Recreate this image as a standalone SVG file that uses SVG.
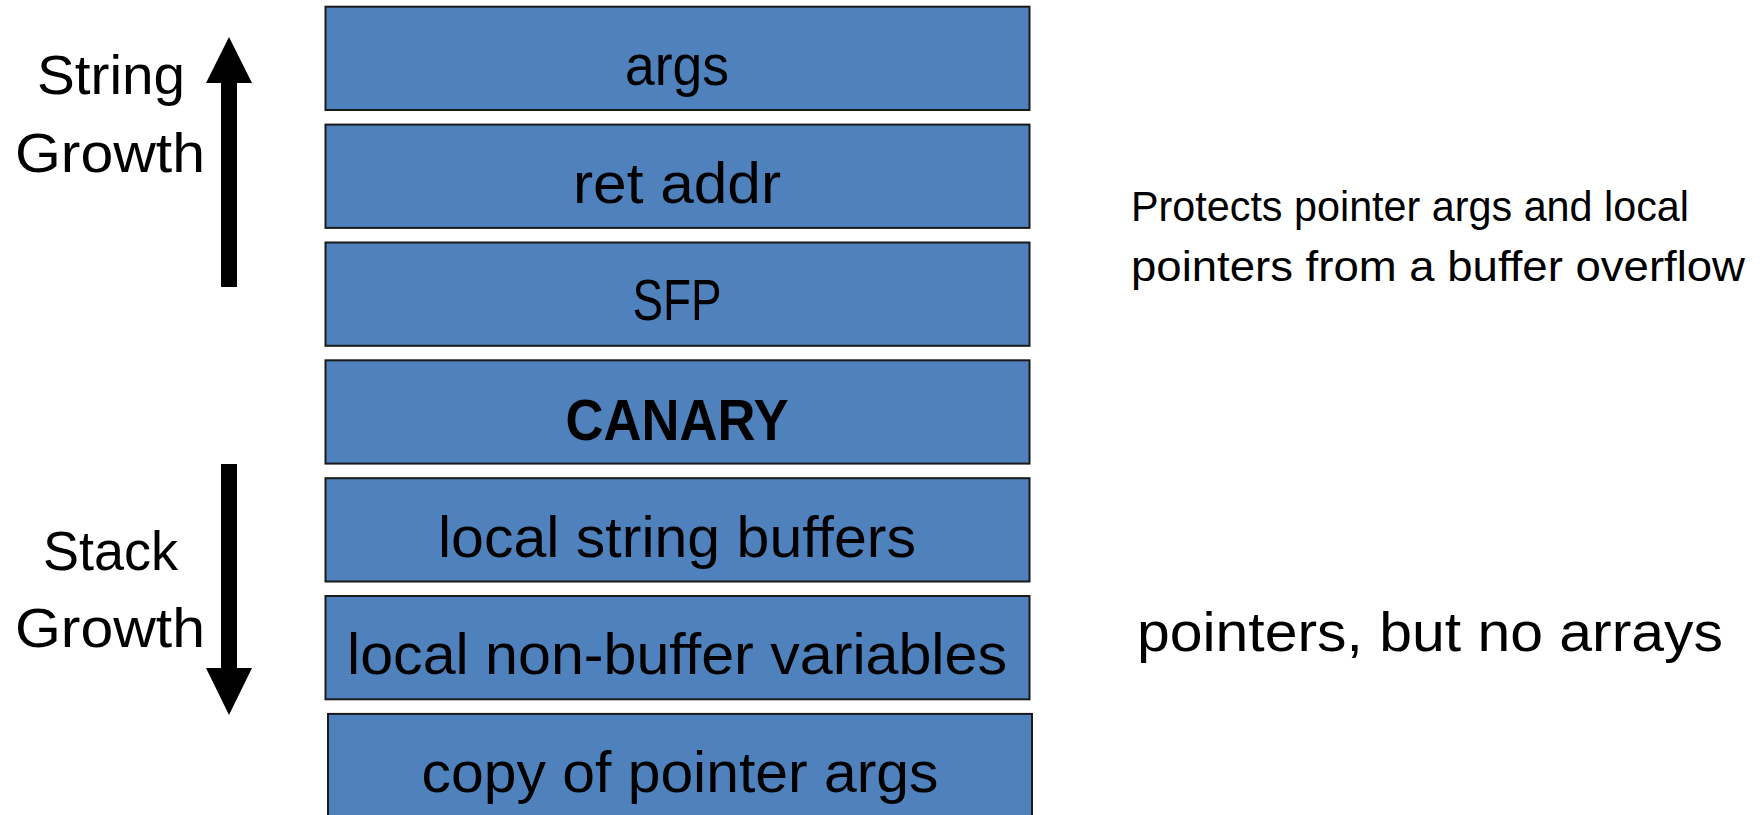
<svg xmlns="http://www.w3.org/2000/svg" width="1760" height="815" viewBox="0 0 1760 815">
<style>
.box{fill:#4f81bd;stroke:#1a1a1a;stroke-width:2}
.lbl{font-family:"Liberation Sans",Arial,sans-serif;font-size:58px;fill:#000;text-anchor:middle}
.side{font-family:"Liberation Sans",Arial,sans-serif;font-size:56px;fill:#000;text-anchor:middle}
.note{font-family:"Liberation Sans",Arial,sans-serif;fill:#000}
.arr{fill:#000}
</style>
<rect width="1760" height="815" fill="#fff"/>
<g id="arrows">
<polygon class="arr" points="221,287 237,287 237,83 252,83 229,37 206,83 221,83"/>
<polygon class="arr" points="221,464 237,464 237,668 252,668 229,715 206,668 221,668"/>
</g>
<g id="string-growth">
<text class="side" x="111" y="94" textLength="148" lengthAdjust="spacingAndGlyphs">String</text>
<text class="side" x="110" y="172" textLength="190" lengthAdjust="spacingAndGlyphs">Growth</text>
</g>
<g id="stack-growth">
<text class="side" x="110.5" y="570" textLength="135" lengthAdjust="spacingAndGlyphs">Stack</text>
<text class="side" x="110" y="647" textLength="190" lengthAdjust="spacingAndGlyphs">Growth</text>
</g>
<g id="args">
<rect class="box" x="325.5" y="6.7" width="704" height="103.3"/>
<text class="lbl" x="677" y="85" textLength="104" lengthAdjust="spacingAndGlyphs">args</text>
</g>
<g id="ret-addr">
<rect class="box" x="325.5" y="124.6" width="704" height="103.3"/>
<text class="lbl" x="677" y="203" textLength="208" lengthAdjust="spacingAndGlyphs">ret addr</text>
</g>
<g id="sfp">
<rect class="box" x="325.5" y="242.5" width="704" height="103.3"/>
<text class="lbl" x="677" y="320" textLength="89" lengthAdjust="spacingAndGlyphs">SFP</text>
</g>
<g id="canary">
<rect class="box" x="325.5" y="360.3" width="704" height="103.3"/>
<text class="lbl" x="677" y="440" font-weight="bold" textLength="223" lengthAdjust="spacingAndGlyphs">CANARY</text>
</g>
<g id="local-string-buffers">
<rect class="box" x="325.5" y="478.2" width="704" height="103.3"/>
<text class="lbl" x="677" y="557" textLength="478" lengthAdjust="spacingAndGlyphs">local string buffers</text>
</g>
<g id="local-non-buffer-variables">
<rect class="box" x="325.5" y="596" width="704" height="103.3"/>
<text class="lbl" x="677" y="674" textLength="660" lengthAdjust="spacingAndGlyphs">local non-buffer variables</text>
</g>
<g id="copy-of-pointer-args">
<rect class="box" x="328" y="713.9" width="704" height="110"/>
<text class="lbl" x="680" y="792" textLength="517" lengthAdjust="spacingAndGlyphs">copy of pointer args</text>
</g>
<g id="note-protects">
<text class="note" x="1131" y="221" font-size="42" textLength="558" lengthAdjust="spacingAndGlyphs">Protects pointer args and local</text>
<text class="note" x="1131" y="281" font-size="42" textLength="614" lengthAdjust="spacingAndGlyphs">pointers from a buffer overflow</text>
</g>
<g id="note-pointers">
<text class="note" x="1137" y="651" font-size="55" textLength="586" lengthAdjust="spacingAndGlyphs">pointers, but no arrays</text>
</g>
</svg>
